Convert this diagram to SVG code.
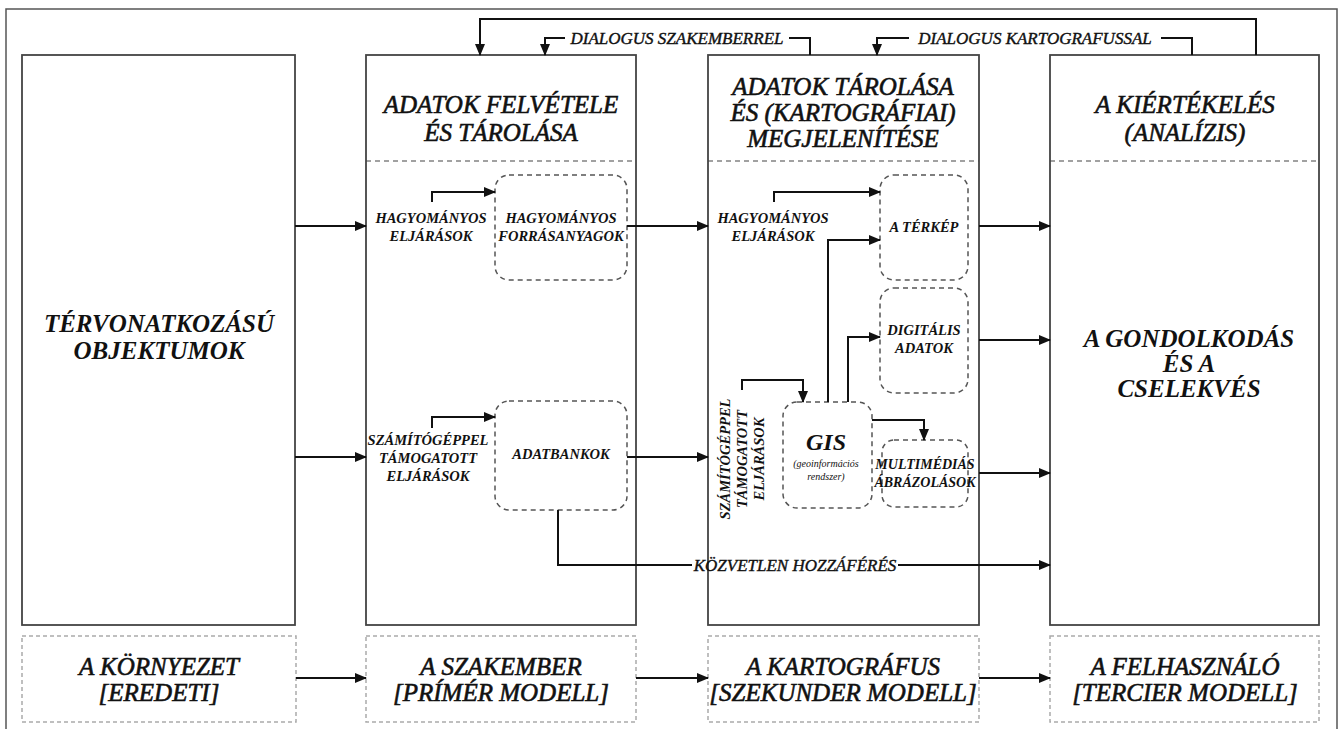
<svg xmlns="http://www.w3.org/2000/svg" width="1344" height="729" viewBox="0 0 1344 729">
<style>
.frame{fill:none;stroke:#555;stroke-width:1.5}
.box{fill:#fff;stroke:#444;stroke-width:1.8}
.div{fill:none;stroke:#444;stroke-width:1.2;stroke-dasharray:5 4}
.sub{fill:#fff;stroke:#555;stroke-width:1.5;stroke-dasharray:5 4}
.bot{fill:#fff;stroke:#aaa;stroke-width:1.5;stroke-dasharray:4 3}
.c{fill:none;stroke:#111;stroke-width:2}
text{font-family:'Liberation Serif','DejaVu Serif',serif;font-style:italic;fill:#111;text-anchor:middle}
.big{font-size:25px;font-weight:bold}
.hd{font-size:25px;stroke:#111;stroke-width:0.6}
.sm{font-size:14.5px;font-weight:bold}
.lb{font-size:17px;stroke:#111;stroke-width:0.4}
</style>
<defs>
<marker id="ah" markerUnits="userSpaceOnUse" markerWidth="12" markerHeight="10" refX="11" refY="5" orient="auto">
<path d="M0,0 L12,5 L0,10 z" fill="#111"/>
</marker>
</defs>
<rect class="frame" x="6" y="9" width="1331" height="730"/>

<g id="box1">
<rect class="box" x="22" y="55" width="273" height="570"/>
<text class="big" x="159" y="332">TÉRVONATKOZÁSÚ</text>
<text class="big" x="159" y="359">OBJEKTUMOK</text>
</g>

<g id="box2">
<rect class="box" x="366" y="55" width="270" height="570"/>
<line class="div" x1="366" y1="161" x2="636" y2="161"/>
<text class="hd" x="501" y="113">ADATOK FELVÉTELE</text>
<text class="hd" x="501" y="141">ÉS TÁROLÁSA</text>
<text class="sm" x="431" y="223">HAGYOMÁNYOS</text>
<text class="sm" x="431" y="241">ELJÁRÁSOK</text>
<text class="sm" x="428" y="445">SZÁMÍTÓGÉPPEL</text>
<text class="sm" x="428" y="463">TÁMOGATOTT</text>
<text class="sm" x="428" y="481">ELJÁRÁSOK</text>
</g>
<g id="forras">
<rect class="sub" x="495" y="175" width="132" height="105" rx="14"/>
<text class="sm" x="561" y="223">HAGYOMÁNYOS</text>
<text class="sm" x="561" y="241">FORRÁSANYAGOK</text>
</g>
<g id="adatbankok">
<rect class="sub" x="495" y="401" width="132" height="109" rx="14"/>
<text class="sm" x="561" y="459">ADATBANKOK</text>
</g>

<g id="box3">
<rect class="box" x="708" y="55" width="271" height="570"/>
<line class="div" x1="708" y1="161" x2="979" y2="161"/>
<text class="hd" x="843" y="95">ADATOK TÁROLÁSA</text>
<text class="hd" x="843" y="121">ÉS (KARTOGRÁFIAI)</text>
<text class="hd" x="843" y="147">MEGJELENÍTÉSE</text>
<text class="sm" x="773" y="223">HAGYOMÁNYOS</text>
<text class="sm" x="773" y="241">ELJÁRÁSOK</text>
<g transform="translate(742,459) rotate(-90)">
<text class="sm" x="0" y="-12">SZÁMÍTÓGÉPPEL</text>
<text class="sm" x="0" y="5">TÁMOGATOTT</text>
<text class="sm" x="0" y="22">ELJÁRÁSOK</text>
</g>
</g>
<g id="terkep">
<rect class="sub" x="880" y="175" width="88" height="105" rx="14"/>
<text class="sm" x="924" y="232">A TÉRKÉP</text>
</g>
<g id="digitalis">
<rect class="sub" x="880" y="288" width="88" height="105" rx="14"/>
<text class="sm" x="924" y="335">DIGITÁLIS</text>
<text class="sm" x="924" y="353">ADATOK</text>
</g>
<g id="gis">
<rect class="sub" x="783" y="402" width="89" height="106" rx="14"/>
<text x="826" y="450" style="font-size:24px;font-weight:bold">GIS</text>
<text x="826" y="467" style="font-size:10px">(geoinformációs</text>
<text x="826" y="480" style="font-size:10px">rendszer)</text>
</g>
<g id="multimedia">
<rect class="sub" x="882" y="440" width="86" height="67" rx="12"/>
<text x="925" y="469" style="font-size:14px;font-weight:bold">MULTIMÉDIÁS</text>
<text x="925" y="487" style="font-size:14px;font-weight:bold">ÁBRÁZOLÁSOK</text>
</g>

<g id="box4">
<rect class="box" x="1050" y="55" width="269" height="570"/>
<line class="div" x1="1050" y1="161" x2="1319" y2="161"/>
<text class="hd" x="1185" y="113">A KIÉRTÉKELÉS</text>
<text class="hd" x="1185" y="141">(ANALÍZIS)</text>
<text class="big" x="1189" y="347">A GONDOLKODÁS</text>
<text class="big" x="1189" y="372">ÉS A</text>
<text class="big" x="1189" y="397">CSELEKVÉS</text>
</g>

<g id="env">
<rect class="bot" x="22" y="636" width="274" height="86"/>
<text class="hd" x="159" y="675">A KÖRNYEZET</text>
<text class="hd" x="159" y="701">[EREDETI]</text>
</g>
<g id="szakember">
<rect class="bot" x="366" y="636" width="270" height="86"/>
<text class="hd" x="501" y="675">A SZAKEMBER</text>
<text class="hd" x="501" y="701">[PRÍMÉR MODELL]</text>
</g>
<g id="kartografus">
<rect class="bot" x="708" y="636" width="271" height="86"/>
<text class="hd" x="843" y="675">A KARTOGRÁFUS</text>
<text class="hd" x="843" y="701">[SZEKUNDER MODELL]</text>
</g>
<g id="felhasznalo">
<rect class="bot" x="1050" y="636" width="269" height="86"/>
<text class="hd" x="1185" y="675">A FELHASZNÁLÓ</text>
<text class="hd" x="1185" y="701">[TERCIER MODELL]</text>
</g>

<g id="connectors">
<path class="c" d="M1256,55 V19 H480 V55" marker-end="url(#ah)"/>
<path class="c" d="M810,55 V38 H789"/>
<path class="c" d="M565,38 H545 V55" marker-end="url(#ah)"/>
<text class="lb" x="677" y="44">DIALOGUS SZAKEMBERREL</text>
<path class="c" d="M1192,55 V38 H1161"/>
<path class="c" d="M909,38 H877 V55" marker-end="url(#ah)"/>
<text class="lb" x="1035" y="44">DIALOGUS KARTOGRAFUSSAL</text>

<path class="c" d="M295,226 H366" marker-end="url(#ah)"/>
<path class="c" d="M295,457 H366" marker-end="url(#ah)"/>
<path class="c" d="M432,202 V192 H495" marker-end="url(#ah)"/>
<path class="c" d="M432,428 V417 H495" marker-end="url(#ah)"/>
<path class="c" d="M627,226 H708" marker-end="url(#ah)"/>
<path class="c" d="M627,457 H708" marker-end="url(#ah)"/>

<path class="c" d="M774,202 V192 H880" marker-end="url(#ah)"/>
<path class="c" d="M828,402 V240 H880" marker-end="url(#ah)"/>
<path class="c" d="M848,402 V337 H880" marker-end="url(#ah)"/>
<path class="c" d="M742,390 V380 H803 V402" marker-end="url(#ah)"/>
<path class="c" d="M872,420 H924 V440" marker-end="url(#ah)"/>

<path class="c" d="M979,226 H1050" marker-end="url(#ah)"/>
<path class="c" d="M979,340 H1050" marker-end="url(#ah)"/>
<path class="c" d="M979,473 H1050" marker-end="url(#ah)"/>

<path class="c" d="M558,510 V565 H692"/>
<path class="c" d="M898,565 H1050" marker-end="url(#ah)"/>
<text class="lb" x="795" y="571">KÖZVETLEN HOZZÁFÉRÉS</text>

<path class="c" d="M296,678 H366" marker-end="url(#ah)"/>
<path class="c" d="M636,678 H708" marker-end="url(#ah)"/>
<path class="c" d="M979,678 H1050" marker-end="url(#ah)"/>
</g>
</svg>
